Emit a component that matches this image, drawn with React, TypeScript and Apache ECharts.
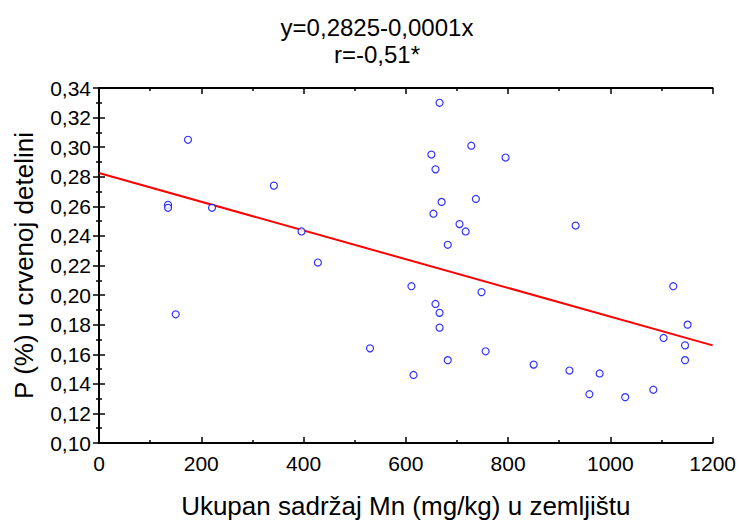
import React, { useEffect, useRef } from "react";
import * as echarts from "echarts";

const mnValues = [135, 135, 150, 174, 221, 342, 396, 428, 530, 611, 615, 650, 654, 658, 658, 666, 666, 666, 670, 682, 682, 705, 717, 728, 737, 748, 756, 795, 850, 920, 932, 959, 979, 1029, 1084, 1104, 1123, 1146, 1146, 1151];
const pValues = [0.261, 0.259, 0.187, 0.305, 0.259, 0.274, 0.243, 0.222, 0.164, 0.206, 0.146, 0.295, 0.255, 0.285, 0.194, 0.330, 0.188, 0.178, 0.263, 0.234, 0.156, 0.248, 0.243, 0.301, 0.265, 0.202, 0.162, 0.293, 0.153, 0.149, 0.247, 0.133, 0.147, 0.131, 0.136, 0.171, 0.206, 0.166, 0.156, 0.180];
const fitX = [0, 1200];
const fitY = [0.2825, 0.166];
const titleLines = ["y=0,2825-0,0001x", "r=-0,51*"];
const xTitle = "Ukupan sadržaj Mn (mg/kg) u zemljištu";
const yTitle = "P (%) u crvenoj detelini";

const FONT = "Liberation Sans, Arial, sans-serif";

export default function App() {
  const ref = useRef<HTMLDivElement>(null);
  useEffect(() => {
    document.body.style.margin = "0";
    if (!ref.current) return;
    const chart = echarts.init(ref.current, null, { renderer: "svg" });
    const axisLine = { show: true, lineStyle: { color: "#000", width: 2 } };
    const tick = { show: true, inside: true, length: 6, lineStyle: { color: "#000", width: 1.5 } };
    const minor = { show: true, splitNumber: 2, length: 3, lineStyle: { color: "#000", width: 1.5 } };
    const xBase = { type: "value", min: 0, max: 1200, interval: 200, splitLine: { show: false }, axisLine, axisTick: tick, minorTick: minor };
    const yBase = { type: "value", min: 0.1, max: 0.34, interval: 0.02, splitLine: { show: false }, axisLine, axisTick: tick, minorTick: minor };
    chart.setOption({
      animation: false,
      backgroundColor: "#fff",
      textStyle: { fontFamily: FONT },
      title: {
        text: titleLines.join("\n"),
        left: 372,
        top: 9,
        textAlign: "center",
        textStyle: { fontFamily: FONT, fontWeight: "normal", fontSize: 24, lineHeight: 27, color: "#000" },
      },
      grid: { left: 99, right: 25, top: 88, bottom: 77 },
      xAxis: [
        {
          ...xBase,
          position: "bottom",
          axisLabel: { color: "#000", fontSize: 21, fontFamily: FONT, margin: 10, formatter: (v: number) => String(v) },
          name: xTitle,
          nameLocation: "middle",
          nameGap: 50,
          nameTextStyle: { color: "#000", fontSize: 26, fontFamily: FONT },
        },
        { ...xBase, position: "top", axisLabel: { show: false } },
      ],
      yAxis: [
        {
          ...yBase,
          position: "left",
          axisLabel: {
            color: "#000",
            fontSize: 21,
            fontFamily: FONT,
            margin: 8,
            formatter: (v: number) => v.toFixed(2).replace(".", ","),
          },
          name: yTitle,
          nameLocation: "middle",
          nameGap: 62,
          nameRotate: 90,
          nameTextStyle: { color: "#000", fontSize: 26, fontFamily: FONT },
        },
        { ...yBase, position: "right", axisLabel: { show: false } },
      ],
      series: [
        {
          type: "line",
          data: fitX.map((x, i) => [x, fitY[i]]),
          symbol: "none",
          lineStyle: { color: "#ff0000", width: 2 },
          z: 2,
        },
        {
          type: "scatter",
          data: mnValues.map((x, i) => [x, pValues[i]]),
          symbol: "circle",
          symbolSize: 7,
          itemStyle: { color: "#fff", borderColor: "#0000ff", borderWidth: 1.2 },
          z: 3,
        },
      ],
    });
    return () => chart.dispose();
  }, []);
  return <div ref={ref} style={{ width: 739, height: 524 }} />;
}
